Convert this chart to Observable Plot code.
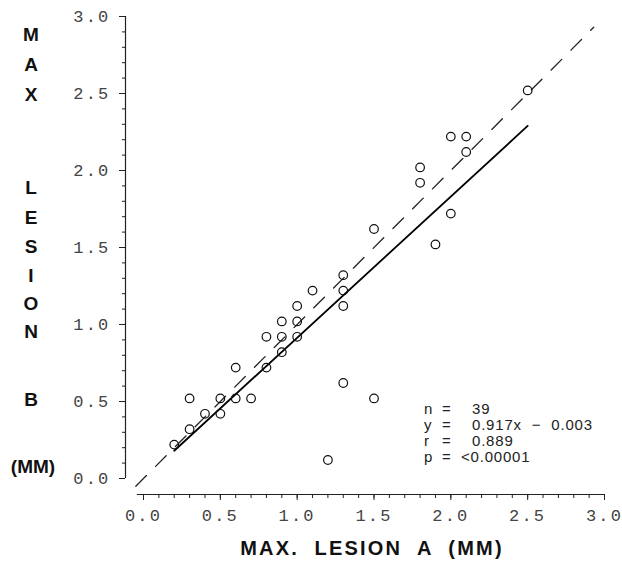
<!DOCTYPE html>
<html>
<head>
<meta charset="utf-8">
<script src="https://cdn.jsdelivr.net/npm/d3@7"></script>
<script src="https://cdn.jsdelivr.net/npm/@observablehq/plot@0.6"></script>
<style>
  html, body { margin: 0; padding: 0; background: #fff; }
  #wrap { position: relative; width: 622px; height: 571px; overflow: hidden; }
  #wrap svg { position: absolute; left: 0; top: 0; }
  g[aria-label$="tick label"] text { letter-spacing: 2.2px; }
  .ylet { position: absolute; font: bold 19px "Liberation Sans", Arial, sans-serif; color: #111; transform: translate(-50%, -50%); white-space: pre; }
  .xtitle { position: absolute; left: 372px; top: 548px; transform: translate(-50%, -50%); font: bold 20px "Liberation Sans", Arial, sans-serif; letter-spacing: 2.2px; white-space: pre; color: #111; }
  .stat { position: absolute; font: 15px "Liberation Sans", Arial, sans-serif; color: #222; letter-spacing: 0.8px; white-space: pre; transform: translateY(-50%); }
</style>
</head>
<body>
<div id="wrap"></div>
<script>
// Data
const lesionA = [2.5, 2.0, 2.1, 2.1, 1.8, 1.8, 2.0, 1.9, 1.5,
  1.3, 1.1, 1.3, 1.3, 1.0, 0.9, 1.0, 0.8, 0.9, 1.0, 0.9, 0.6, 0.8,
  1.3, 1.5, 0.3, 0.5, 0.6, 0.7, 0.4, 0.5, 0.3, 0.2, 1.2];
const lesionB = [2.52, 2.22, 2.22, 2.12, 2.02, 1.92, 1.72, 1.52, 1.62,
  1.32, 1.22, 1.22, 1.12, 1.12, 1.02, 1.02, 0.92, 0.92, 0.92, 0.82, 0.72, 0.72,
  0.62, 0.52, 0.52, 0.52, 0.52, 0.52, 0.42, 0.42, 0.32, 0.22, 0.12];
const slope = 0.917;
const intercept = -0.003;
const identityRange = [-0.05, 2.93];
const majorTicks = [0, 0.5, 1.0, 1.5, 2.0, 2.5, 3.0];
const minorTicks = d3.range(0, 31).map(i => i / 10);
const yTitleLetters = ["M", "A", "X", "L", "E", "S", "I", "O", "N", "B", "(MM)"];
const yTitleRows = [35, 65, 95, 188, 218, 247, 276, 304, 332, 400, 467];
const xTitle = "MAX.  LESION  A  (MM)";
const statLabels = ["n", "y", "r", "p"];
const statValues = ["39", "0.917x  \u2212  0.003", "0.889", "<0.00001"];

const points = lesionA.map((a, i) => ({a, b: lesionB[i]}));
const [xmin, xmax] = d3.extent(lesionA);
const fit = [xmin, xmax].map(x => ({x, y: slope * x + intercept}));
const ident = identityRange.map(v => ({x: v, y: v}));

const tickFont = {fontFamily: "Liberation Mono, DejaVu Sans Mono, monospace", fontSize: 17, fill: "#444"};

const chart = Plot.plot({
  width: 622,
  height: 571,
  marginLeft: 143,
  marginRight: 18,
  marginTop: 16,
  marginBottom: 93,
  x: {domain: [0, 3], axis: null},
  y: {domain: [0, 3], axis: null},
  style: {background: "white", overflow: "visible"},
  marks: [
    // axis lines (offset from the data origin)
    Plot.ruleX([0], {y1: 0, y2: 3, dx: -18, stroke: "#222", strokeWidth: 1.2}),
    Plot.ruleY([0], {x1: -0.04, x2: 3, dy: 16, stroke: "#222", strokeWidth: 1.2}),
    // y axis ticks
    Plot.axisY({anchor: "left", ticks: minorTicks, tickSize: 3, dx: -18, tickFormat: () => "", label: null, stroke: "#222"}),
    Plot.axisY({anchor: "left", ticks: majorTicks, tickSize: 6, tickPadding: 9, dx: -18, tickFormat: d3.format(".1f"), label: null, stroke: "#222", ...tickFont}),
    // x axis ticks
    Plot.axisX({anchor: "bottom", ticks: minorTicks, tickSize: 4, dy: 16, tickFormat: () => "", label: null, stroke: "#222"}),
    Plot.axisX({anchor: "bottom", ticks: majorTicks, tickSize: 6, tickPadding: 8, dy: 16, tickFormat: d3.format(".1f"), label: null, stroke: "#222", ...tickFont}),
    // identity (dashed) and regression (solid) lines
    Plot.line(ident, {x: "x", y: "y", stroke: "#222", strokeWidth: 1.3, strokeDasharray: "15,13", clip: false}),
    Plot.line(fit, {x: "x", y: "y", stroke: "#000", strokeWidth: 1.8}),
    // data points
    Plot.dot(points, {x: "a", y: "b", r: 4.3, stroke: "#111", strokeWidth: 1.2, fill: "none"})
  ]
});

const wrap = document.getElementById("wrap");
wrap.appendChild(chart);

// y axis title, stacked letters
yTitleLetters.forEach((t, i) => {
  const d = document.createElement("div");
  d.className = "ylet";
  d.textContent = t;
  d.style.left = (t.length > 1 ? 33 : 31) + "px";
  d.style.top = yTitleRows[i] + "px";
  wrap.appendChild(d);
});

// x axis title
const xt = document.createElement("div");
xt.className = "xtitle";
xt.textContent = xTitle;
wrap.appendChild(xt);

// statistics block
const statTop = 408, statStep = 16;
statLabels.forEach((l, i) => {
  const y = statTop + i * statStep;
  const a = document.createElement("div");
  a.className = "stat"; a.textContent = l; a.style.left = "424px"; a.style.top = y + "px";
  const e = document.createElement("div");
  e.className = "stat"; e.textContent = "="; e.style.left = "442px"; e.style.top = y + "px";
  const v = document.createElement("div");
  v.className = "stat"; v.textContent = statValues[i];
  v.style.left = (statValues[i].startsWith("<") ? 461 : 472) + "px"; v.style.top = y + "px";
  wrap.append(a, e, v);
});
</script>
</body>
</html>
